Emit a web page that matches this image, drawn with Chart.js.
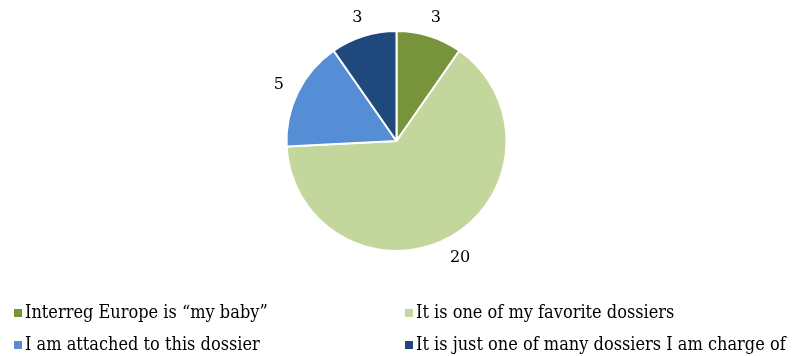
<!DOCTYPE html>
<html>
<head>
<meta charset="utf-8">
<script src="https://cdn.jsdelivr.net/npm/chart.js@4"></script>
<style>
  body { margin: 0; background: #fff; }
  #wrap { position: relative; width: 792px; height: 356px; }
  #legend { position: absolute; left: 0; top: 303px; width: 792px; font-family: "DejaVu Serif Condensed", "DejaVu Serif", serif; font-stretch: condensed; font-size: 18px; line-height: 18px; color: #000; }
  .item { position: absolute; white-space: nowrap; }
  .box { display: inline-block; width: 8px; height: 8px; margin-right: 3px; vertical-align: 1px; }
</style>
</head>
<body>
<div id="wrap">
  <canvas id="chart" width="792" height="356"></canvas>
  <div id="legend"></div>
</div>
<script>
const labels = [
  'Interreg Europe is \u201cmy baby\u201d',
  'It is one of my favorite dossiers',
  'I am attached to this dossier',
  'It is just one of many dossiers I am charge of'
];
const counts = [3, 20, 5, 3];
const colors = ['#77933C', '#C3D69B', '#558ED5', '#1F497D'];

// value labels just outside each slice
const outsideLabels = {
  id: 'outsideLabels',
  afterDatasetsDraw(chart) {
    const ctx = chart.ctx;
    const meta = chart.getDatasetMeta(0);
    ctx.save();
    ctx.font = '16px "DejaVu Serif", serif';
    ctx.fillStyle = '#000';
    ctx.textAlign = 'center';
    ctx.textBaseline = 'middle';
    meta.data.forEach((arc, i) => {
      const mid = (arc.startAngle + arc.endAngle) / 2;
      const r = arc.outerRadius + 21;
      ctx.fillText(String(counts[i]), arc.x + Math.cos(mid) * r, arc.y + Math.sin(mid) * r + 2);
    });
    ctx.restore();
  }
};

new Chart(document.getElementById('chart'), {
  type: 'pie',
  data: {
    labels: labels,
    datasets: [{
      data: counts,
      backgroundColor: colors,
      borderColor: '#fff',
      borderWidth: 2
    }]
  },
  options: {
    responsive: false,
    animation: false,
    layout: { padding: { top: 30, bottom: 104, left: 1, right: 0 } },
    plugins: {
      legend: { display: false },
      tooltip: { enabled: false }
    }
  },
  plugins: [outsideLabels]
});

// two-column legend under the pie
const legend = document.getElementById('legend');
labels.forEach((txt, i) => {
  const el = document.createElement('div');
  el.className = 'item';
  el.style.left = (i % 2 === 0 ? 14 : 405) + 'px';
  el.style.top = (Math.floor(i / 2) * 32) + 'px';
  el.innerHTML = '<span class="box" style="background:' + colors[i] + '"></span>' + txt;
  legend.appendChild(el);
});
</script>
</body>
</html>
